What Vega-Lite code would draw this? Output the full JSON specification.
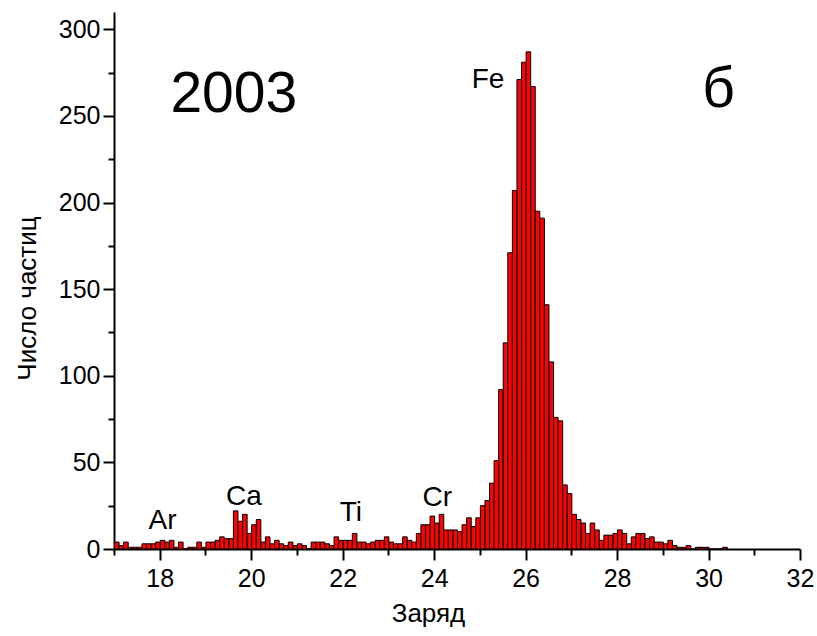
{
  "$schema": "https://vega.github.io/schema/vega-lite/v6.json",
  "autosize": "none",
  "width": 686,
  "height": 537,
  "padding": {"left": 114, "top": 12, "right": 17, "bottom": 87},
  "background": "white",
  "config": {
    "view": {"stroke": null},
    "font": "Liberation Sans",
    "bar": {"binSpacing": 0}
  },
  "datasets": {
    "hist": [
      {"z":17.0,"n":4},{"z":17.1,"n":2},{"z":17.2,"n":4},{"z":17.3,"n":1},{"z":17.4,"n":1},{"z":17.5,"n":1},{"z":17.6,"n":3},{"z":17.7,"n":3},{"z":17.8,"n":3},{"z":17.9,"n":4},
      {"z":18.0,"n":5},{"z":18.1,"n":4},{"z":18.2,"n":5},{"z":18.3,"n":1},{"z":18.4,"n":4},{"z":18.5,"n":0},{"z":18.6,"n":1},{"z":18.7,"n":1},{"z":18.8,"n":4},{"z":18.9,"n":1},
      {"z":19.0,"n":4},{"z":19.1,"n":4},{"z":19.2,"n":5},{"z":19.3,"n":7},{"z":19.4,"n":6},{"z":19.5,"n":6},{"z":19.6,"n":22},{"z":19.7,"n":16},{"z":19.8,"n":20},{"z":19.9,"n":9},
      {"z":20.0,"n":14},{"z":20.1,"n":17},{"z":20.2,"n":4},{"z":20.3,"n":7},{"z":20.4,"n":3},{"z":20.5,"n":5},{"z":20.6,"n":3},{"z":20.7,"n":2},{"z":20.8,"n":4},{"z":20.9,"n":2},
      {"z":21.0,"n":3},{"z":21.1,"n":2},{"z":21.2,"n":0},{"z":21.3,"n":4},{"z":21.4,"n":4},{"z":21.5,"n":4},{"z":21.6,"n":3},{"z":21.7,"n":2},{"z":21.8,"n":7},{"z":21.9,"n":5},
      {"z":22.0,"n":5},{"z":22.1,"n":5},{"z":22.2,"n":9},{"z":22.3,"n":4},{"z":22.4,"n":4},{"z":22.5,"n":3},{"z":22.6,"n":4},{"z":22.7,"n":5},{"z":22.8,"n":5},{"z":22.9,"n":7},
      {"z":23.0,"n":4},{"z":23.1,"n":3},{"z":23.2,"n":3},{"z":23.3,"n":7},{"z":23.4,"n":5},{"z":23.5,"n":4},{"z":23.6,"n":9},{"z":23.7,"n":14},{"z":23.8,"n":14},{"z":23.9,"n":19},
      {"z":24.0,"n":15},{"z":24.1,"n":20},{"z":24.2,"n":11},{"z":24.3,"n":11},{"z":24.4,"n":11},{"z":24.5,"n":10},{"z":24.6,"n":14},{"z":24.7,"n":18},{"z":24.8,"n":13},{"z":24.9,"n":18},
      {"z":25.0,"n":25},{"z":25.1,"n":28},{"z":25.2,"n":38},{"z":25.3,"n":51},{"z":25.4,"n":92},{"z":25.5,"n":119},{"z":25.6,"n":171},{"z":25.7,"n":207},{"z":25.8,"n":271},{"z":25.9,"n":281},
      {"z":26.0,"n":287},{"z":26.1,"n":267},{"z":26.2,"n":195},{"z":26.3,"n":191},{"z":26.4,"n":141},{"z":26.5,"n":108},{"z":26.6,"n":76},{"z":26.7,"n":74},{"z":26.8,"n":37},{"z":26.9,"n":32},
      {"z":27.0,"n":20},{"z":27.1,"n":17},{"z":27.2,"n":15},{"z":27.3,"n":9},{"z":27.4,"n":15},{"z":27.5,"n":11},{"z":27.6,"n":5},{"z":27.7,"n":8},{"z":27.8,"n":8},{"z":27.9,"n":9},
      {"z":28.0,"n":11},{"z":28.1,"n":9},{"z":28.2,"n":3},{"z":28.3,"n":7},{"z":28.4,"n":9},{"z":28.5,"n":9},{"z":28.6,"n":6},{"z":28.7,"n":7},{"z":28.8,"n":4},{"z":28.9,"n":4},
      {"z":29.0,"n":3},{"z":29.1,"n":5},{"z":29.2,"n":2},{"z":29.3,"n":1},{"z":29.4,"n":1},{"z":29.5,"n":2},{"z":29.6,"n":0},{"z":29.7,"n":1},{"z":29.8,"n":1},{"z":29.9,"n":1},
      {"z":30.0,"n":0},{"z":30.1,"n":0},{"z":30.2,"n":0},{"z":30.3,"n":1}
    ],
    "notes": [
      {"x":19.62,"y":262,"t":"2003","k":"big"},
      {"x":30.22,"y":265,"t":"б","k":"big"},
      {"x":25.18,"y":271,"t":"Fe","k":"el"},
      {"x":19.84,"y":30,"t":"Ca","k":"el"},
      {"x":18.06,"y":16,"t":"Ar","k":"el"},
      {"x":22.18,"y":21,"t":"Ti","k":"el"},
      {"x":24.07,"y":29.5,"t":"Cr","k":"el"}
    ]
  },
  "layer": [
    {
      "data": {"name": "hist"},
      "mark": {"type": "bar", "fill": "#ff0000", "stroke": "#000000", "strokeWidth": 1},
      "encoding": {
        "x": {
          "field": "z", "type": "quantitative",
          "bin": {"binned": true, "step": 0.1},
          "scale": {"domain": [17, 32], "nice": false, "zero": false},
          "axis": {
            "title": "Заряд",
            "values": [17,18,19,20,21,22,23,24,25,26,27,28,29,30,31,32],
            "labelExpr": "datum.value % 2 === 0 ? datum.label : ''",
            "format": "d",
            "grid": false,
            "domainColor": "#000", "domainWidth": 2,
            "tickColor": "#000", "tickWidth": 2,
            "tickSize": {"condition": {"test": "datum.value % 2 === 0", "value": 11}, "value": 6},
            "labelFontSize": 25, "labelColor": "#000", "labelPadding": 6, "labelFlush": false,
            "titleFontSize": 26, "titleFontWeight": "normal", "titleColor": "#000",
            "titleX": 314, "titleY": 64, "titleBaseline": "middle", "titleAlign": "center"
          }
        },
        "y": {
          "field": "n", "type": "quantitative",
          "scale": {"domain": [0, 310], "nice": false},
          "axis": {
            "title": "Число частиц",
            "values": [0,25,50,75,100,125,150,175,200,225,250,275,300],
            "labelExpr": "datum.value % 50 === 0 ? datum.label : ''",
            "grid": false,
            "domainColor": "#000", "domainWidth": 2,
            "tickColor": "#000", "tickWidth": 2,
            "tickSize": {"condition": {"test": "datum.value % 50 === 0", "value": 11}, "value": 6},
            "labelFontSize": 25, "labelColor": "#000", "labelPadding": 3,
            "titleFontSize": 26, "titleFontWeight": "normal", "titleColor": "#000",
            "titleX": -87, "titleY": 286, "titleBaseline": "middle", "titleAlign": "center", "titleAngle": -90
          }
        }
      }
    },
    {
      "data": {"name": "notes"},
      "transform": [{"filter": "datum.k === 'big'"}],
      "mark": {"type": "text", "fontSize": 57, "color": "#000", "baseline": "middle", "align": "center"},
      "encoding": {
        "x": {"field": "x", "type": "quantitative"},
        "y": {"field": "y", "type": "quantitative"},
        "text": {"field": "t"}
      }
    },
    {
      "data": {"name": "notes"},
      "transform": [{"filter": "datum.k === 'el'"}],
      "mark": {"type": "text", "fontSize": 28, "color": "#000", "baseline": "middle", "align": "center"},
      "encoding": {
        "x": {"field": "x", "type": "quantitative"},
        "y": {"field": "y", "type": "quantitative"},
        "text": {"field": "t"}
      }
    }
  ]
}
